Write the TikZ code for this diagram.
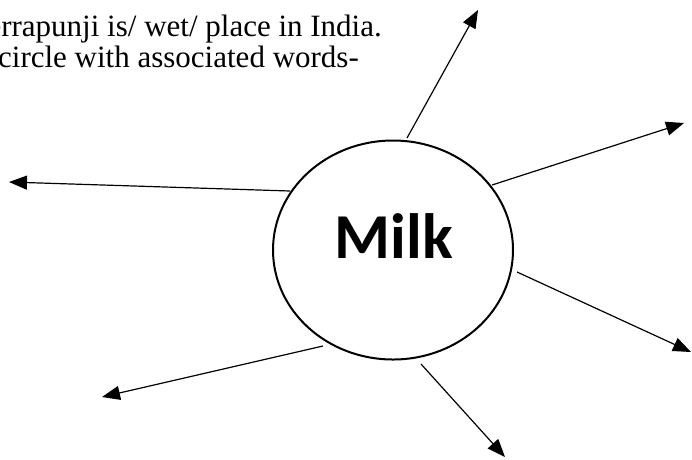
\documentclass[tikz,border=0pt]{standalone}
\usepackage{fontspec}
\setmainfont{Liberation Serif}
\newfontfamily\milkfont{Carlito}
\usetikzlibrary{arrows.meta,shapes.geometric}
\tikzset{
  spoke/.style={line width=1.2pt,-{Triangle[length=18pt,width=14pt]}},
  hub/.style={ellipse,draw,line width=2pt,minimum width=240pt,minimum height=219pt,inner sep=0pt},
  bodytext/.style={inner sep=0pt,anchor=base east,font=\fontsize{31}{31}\selectfont}
}
\begin{document}
\begin{tikzpicture}[x=1pt,y=-1pt]
\useasboundingbox (0,0) rectangle (692,459);
\clip (0,0) rectangle (692,459);
\node[bodytext] (line1) at (382,36) {Cherrapunji is/ wet/ place in India.};
\node[bodytext] (line2) at (359,67) {circle with associated words-};
\node[hub] (c) at (393,250) {};
\node[inner sep=0pt,anchor=base,font=\milkfont\bfseries\fontsize{64}{64}\selectfont] (milk) at (394,258) {Milk};
\coordinate (s1) at (407,138); \coordinate (t1) at (478,10);
\coordinate (s2) at (492,185); \coordinate (t2) at (684,123);
\coordinate (s3) at (290,191); \coordinate (t3) at (9,182);
\coordinate (s4) at (517,272); \coordinate (t4) at (691,352);
\coordinate (s5) at (421,364); \coordinate (t5) at (505,457);
\coordinate (s6) at (323,346); \coordinate (t6) at (102,397);
\draw[spoke] (s1) -- (t1);
\draw[spoke] (s2) -- (t2);
\draw[spoke] (s3) -- (t3);
\draw[spoke] (s4) -- (t4);
\draw[spoke] (s5) -- (t5);
\draw[spoke] (s6) -- (t6);
\end{tikzpicture}
\end{document}
